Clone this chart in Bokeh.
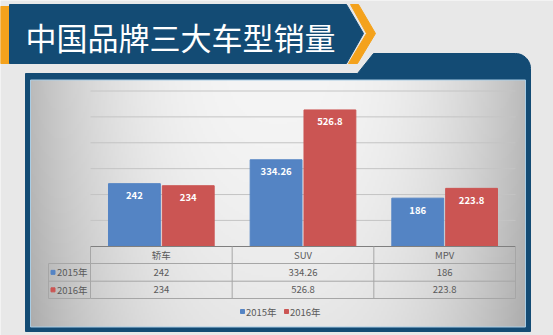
import numpy as np
from bokeh.plotting import figure
from bokeh.models import Range1d
from bokeh.core.properties import value
from bokeh.embed import file_html
from bokeh.resources import INLINE

# ---------------- data ----------------
title = "中国品牌三大车型销量"
categories = ["轿车", "SUV", "MPV"]
series_names = ["2015年", "2016年"]
sales_2015 = [242, 334.26, 186]
sales_2016 = [234, 526.8, 223.8]
y_ticks = [0, 100, 200, 300, 400, 500, 600]

# ---------------- style ----------------
W, H = 553, 335
FONT = "Noto Sans CJK SC"
BLUE = "#5484C4"
RED = "#CB5553"
NAVY = "#134B74"
ORANGE = "#F4A21C"
BG = "#E8E8E8"
TXT = "#5A5A5A"
COLORS = [BLUE, RED]


def Y(py):
    return H - py


# chart plot area (pixels from top-left)
PX0, PX1 = 90, 515
PY0, PYTOP = 245.8, 90.5
ncat = len(categories)
cw = (PX1 - PX0) / ncat
ymax = y_ticks[-1]
k = (PY0 - PYTOP) / ymax

p = figure(width=W, height=H, x_range=Range1d(0, W), y_range=Range1d(0, H),
           output_backend="svg", toolbar_location=None, min_border=0,
           x_axis_location=None, y_axis_location=None)
p.grid.visible = False
p.outline_line_color = None
p.background_fill_color = BG
p.border_fill_color = BG
p.extra_x_ranges = {"cat": Range1d(-PX0 / cw, ncat + (W - PX1) / cw)}
p.extra_y_ranges = {"val": Range1d(-(H - PY0) / k, ymax + PYTOP / k)}

# ---------------- title banner ----------------
p.quad(left=0, right=9, bottom=Y(63), top=Y(6), color=ORANGE)
p.patch(x=[9, 346, 363, 346, 9], y=[Y(4), Y(4), Y(33), Y(63), Y(63)], color=NAVY)
p.patch(x=[350, 358, 375, 357, 348, 366],
        y=[Y(4), Y(4), Y(33), Y(63), Y(63), Y(33)], color=ORANGE)
p.text(x=[25], y=[Y(36)], text=[title], text_font=value(FONT), text_font_size="31px",
       text_color="white", text_baseline="middle", text_align="left")

# ---------------- frame ----------------
ang = np.linspace(np.pi / 2, 0, 12)
arc_x = list(515 + 15 * np.cos(ang))
arc_y = list(68 - 15 * np.sin(ang))
fx = [25, 357, 373] + arc_x + [530, 25]
fy = [73, 73, 53] + arc_y + [331, 331]
p.patch(x=fx, y=[Y(v) for v in fy], color=NAVY)

# inner panel with soft gradient
nx, ny = 248, 124
u = np.linspace(-1, 1, nx)[None, :]
vv = np.linspace(0, 1, ny)[:, None]  # 0 = bottom, 1 = top
val = 245 - 58 * np.abs(u) ** 2.6 - 14 * (1 - vv) ** 1.5
val = np.clip(val, 0, 255).astype(np.uint8)
img = np.empty((ny, nx), dtype=np.uint32)
view = img.view(dtype=np.uint8).reshape((ny, nx, 4))
view[..., 0] = val
view[..., 1] = val
view[..., 2] = val
view[..., 3] = 255
p.image_rgba(image=[img], x=30, y=Y(326.5), dw=495, dh=247)
p.quad(left=30, right=525, bottom=Y(326.5), top=Y(79.5), fill_color=None,
       line_color="#A8CCE4", line_width=1)

# ---------------- gridlines ----------------
for t in y_ticks[1:]:
    p.segment(x0=0, x1=ncat, y0=t, y1=t, x_range_name="cat", y_range_name="val",
              line_color="#C4C4C4", line_width=1)

# ---------------- bars ----------------
idx = np.arange(ncat) + 0.5
off = 0.19
bw = 0.366
series = [sales_2015, sales_2016]
for s, (vals, col) in enumerate(zip(series, COLORS)):
    xs = idx + (off if s else -off)
    p.vbar(x=xs, top=vals, bottom=0, width=bw, color=col,
           x_range_name="cat", y_range_name="val")
    p.text(x=xs, y=vals, text=[f"{v:g}" for v in vals], x_range_name="cat",
           y_range_name="val", text_font=value(FONT), text_font_size="9.5px",
           text_font_style="bold", text_color="white", text_align="center",
           text_baseline="middle", y_offset=12)

# ---------------- data table ----------------
T = [246, 263, 280.7, 298]
# axis / table top line
p.segment(x0=0, x1=ncat, y0=Y(T[0]), y1=Y(T[0]), x_range_name="cat",
          line_color="#7F7F7F", line_width=1.2)
for t in T[1:]:
    p.segment(x0=0, x1=ncat, y0=Y(t), y1=Y(t), x_range_name="cat",
              line_color="#A6A6A6", line_width=1)
    p.segment(x0=48, x1=PX0, y0=Y(t), y1=Y(t), line_color="#A6A6A6", line_width=1)
for c in range(ncat + 1):
    p.segment(x0=c, x1=c, y0=Y(T[0]), y1=Y(T[3]), x_range_name="cat",
              line_color="#A6A6A6", line_width=1)
p.segment(x0=48, x1=48, y0=Y(T[1]), y1=Y(T[3]), line_color="#A6A6A6", line_width=1)

p.text(x=idx, y=[Y((T[0] + T[1]) / 2)] * ncat, text=categories, x_range_name="cat",
       text_font=value(FONT), text_font_size="9.5px", text_color=TXT,
       text_align="center", text_baseline="middle")
for r, vals in enumerate(series):
    yc = Y((T[r + 1] + T[r + 2]) / 2)
    p.text(x=idx, y=[yc] * ncat, text=[f"{v:g}" for v in vals], x_range_name="cat",
           text_font=value(FONT), text_font_size="9.5px", text_color=TXT,
           text_align="center", text_baseline="middle")
    p.scatter(x=[52.5], y=[yc], marker="square", size=4, color=COLORS[r])
    p.text(x=[56.5], y=[yc], text=[series_names[r]], text_font=value(FONT),
           text_font_size="9.5px", text_color=TXT, text_align="left",
           text_baseline="middle")

# ---------------- legend ----------------
leg_x = [242, 286]
for i, name in enumerate(series_names):
    p.scatter(x=[leg_x[i]], y=[Y(311)], marker="square", size=4, color=COLORS[i])
    p.text(x=[leg_x[i] + 3.5], y=[Y(311)], text=[name], text_font=value(FONT),
           text_font_size="9.5px", text_color=TXT, text_align="left",
           text_baseline="middle")

open("out.html", "w").write(file_html(p, INLINE))
